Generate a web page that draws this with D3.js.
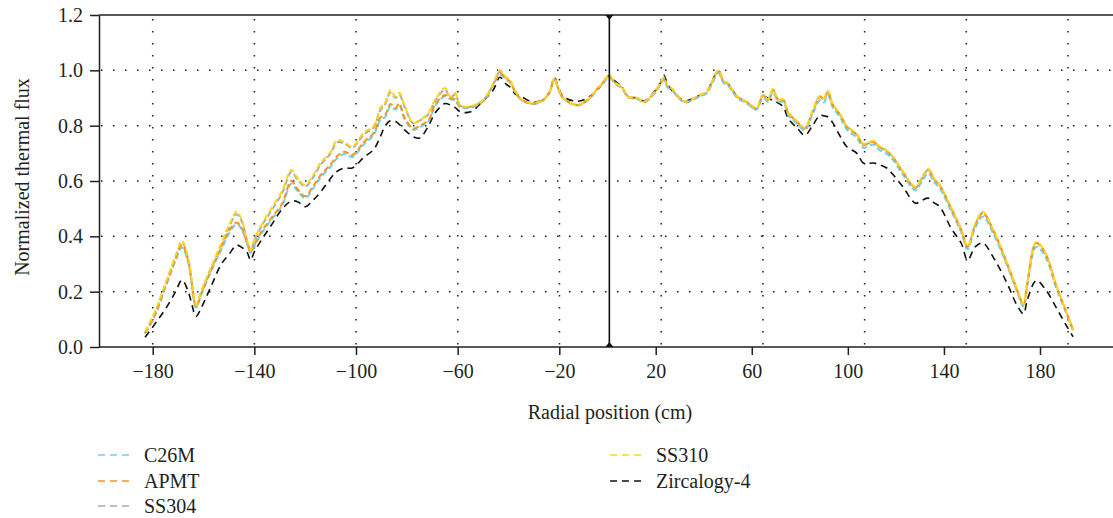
<!DOCTYPE html>
<html>
<head>
<meta charset="utf-8">
<script src="https://cdn.jsdelivr.net/npm/d3@7"></script>
<style>
  html, body { margin: 0; padding: 0; background: #ffffff; }
  svg { display: block; }
  text { font-family: "Liberation Serif", "DejaVu Serif", serif; fill: #231f20; }
</style>
</head>
<body>
<script>
// Radial positions (cm) at which the flux profiles are sampled
const positions = [
  -183, -179, -175, -171, -168.5, -166, -164.5, -163, -161, -157,
  -153, -150, -147, -145, -143, -141.5, -140, -137, -133, -129,
  -125.5, -123, -120, -117, -114, -110, -107.5, -104.5, -101.5, -97,
  -93, -90.5, -88.5, -86.5, -84.5, -83, -81, -77.5, -75, -71.5,
  -69, -65, -63, -61, -59, -55, -50, -46, -43.5, -41,
  -39.5, -37.5, -35, -30.5, -26.5, -24, -22, -20.5, -18.5, -13,
  -9, -5, -3, -0.5, 2, 4.5, 7, 10.5, 13.5, 17.5,
  20, 21, 22.5, 24, 28, 30, 34, 38, 40, 42.5,
  44.5, 46, 50, 53.5, 57.5, 60, 62, 64, 66, 68,
  70, 73.5, 76.5, 79.5, 82.5, 84, 85.5, 87.5, 90.5, 93,
  97, 99.5, 103.5, 105.5, 108.5, 111, 115, 120, 122.5, 125,
  127.5, 129.5, 134, 138, 140.5, 143.5, 146.5, 150.5, 156, 160,
  162.5, 164, 167.5, 171, 175.5, 179.5, 182
];

// Normalized thermal flux for each cladding material
const c26m = [
  0.048, 0.115, 0.215, 0.312, 0.36, 0.303, 0.215, 0.142, 0.186, 0.275,
  0.352, 0.41, 0.445, 0.425, 0.375, 0.34, 0.365, 0.413, 0.463, 0.513,
  0.59, 0.563, 0.538, 0.572, 0.612, 0.652, 0.682, 0.698, 0.687, 0.732,
  0.768, 0.82, 0.832, 0.87, 0.858, 0.873, 0.825, 0.785, 0.795, 0.815,
  0.87, 0.906, 0.896, 0.89, 0.867, 0.865, 0.888, 0.946, 0.985, 0.966,
  0.956, 0.922, 0.893, 0.878, 0.891, 0.917, 0.966, 0.932, 0.898, 0.873,
  0.89, 0.932, 0.951, 0.974, 0.95, 0.936, 0.902, 0.897, 0.884, 0.918,
  0.952, 0.966, 0.938, 0.93, 0.89, 0.884, 0.9, 0.918, 0.952, 0.99,
  0.954, 0.948, 0.9, 0.882, 0.858, 0.902, 0.886, 0.922, 0.887, 0.886,
  0.838, 0.806, 0.783, 0.84, 0.893, 0.884, 0.91, 0.866, 0.828, 0.786,
  0.756, 0.72, 0.732, 0.714, 0.7, 0.678, 0.624, 0.566, 0.598, 0.627,
  0.594, 0.575, 0.493, 0.414, 0.354, 0.43, 0.472, 0.412, 0.295, 0.2,
  0.146, 0.222, 0.362, 0.328, 0.21, 0.118, 0.058
];
const apmt = [
  0.05, 0.12, 0.22, 0.32, 0.368, 0.31, 0.22, 0.145, 0.19, 0.28,
  0.36, 0.42, 0.45, 0.43, 0.38, 0.344, 0.37, 0.42, 0.47, 0.52,
  0.6, 0.57, 0.545, 0.58, 0.62, 0.66, 0.69, 0.706, 0.694, 0.74,
  0.775, 0.828, 0.84, 0.878, 0.864, 0.88, 0.83, 0.79, 0.8, 0.82,
  0.875, 0.911, 0.9, 0.895, 0.87, 0.868, 0.89, 0.95, 0.99, 0.97,
  0.96, 0.925, 0.895, 0.88, 0.893, 0.92, 0.97, 0.935, 0.9, 0.875,
  0.893, 0.935, 0.955, 0.978, 0.954, 0.94, 0.905, 0.9, 0.887, 0.923,
  0.958, 0.972, 0.943, 0.935, 0.893, 0.887, 0.905, 0.923, 0.958, 0.998,
  0.96, 0.953, 0.905, 0.887, 0.864, 0.91, 0.893, 0.93, 0.893, 0.893,
  0.846, 0.814, 0.791, 0.85, 0.905, 0.895, 0.923, 0.875, 0.838, 0.796,
  0.766, 0.73, 0.742, 0.724, 0.71, 0.688, 0.634, 0.575, 0.61, 0.64,
  0.604, 0.585, 0.502, 0.423, 0.362, 0.441, 0.484, 0.423, 0.303, 0.206,
  0.152, 0.231, 0.376, 0.34, 0.218, 0.123, 0.061
];
const ss304 = [
  0.052, 0.125, 0.225, 0.325, 0.378, 0.318, 0.228, 0.15, 0.198, 0.285,
  0.37, 0.432, 0.48, 0.455, 0.388, 0.348, 0.385, 0.44, 0.498, 0.558,
  0.632, 0.605, 0.58, 0.612, 0.658, 0.7, 0.74, 0.735, 0.72, 0.768,
  0.795, 0.855, 0.878, 0.92, 0.9, 0.912, 0.87, 0.808, 0.818, 0.842,
  0.888, 0.93, 0.902, 0.912, 0.872, 0.868, 0.892, 0.95, 0.995, 0.972,
  0.962, 0.926, 0.893, 0.88, 0.892, 0.918, 0.968, 0.934, 0.898, 0.874,
  0.892, 0.934, 0.953, 0.98, 0.952, 0.938, 0.903, 0.898, 0.886, 0.921,
  0.956, 0.972, 0.943, 0.934, 0.892, 0.886, 0.903, 0.921, 0.956, 0.996,
  0.96, 0.952, 0.903, 0.886, 0.862, 0.91, 0.893, 0.93, 0.893, 0.892,
  0.845, 0.813, 0.79, 0.85, 0.905, 0.895, 0.922, 0.875, 0.837, 0.797,
  0.767, 0.732, 0.742, 0.725, 0.709, 0.687, 0.633, 0.575, 0.609, 0.641,
  0.604, 0.585, 0.502, 0.423, 0.362, 0.441, 0.485, 0.423, 0.302, 0.205,
  0.152, 0.229, 0.376, 0.34, 0.217, 0.122, 0.06
];
const ss310 = [
  0.055, 0.13, 0.23, 0.33, 0.383, 0.32, 0.23, 0.152, 0.2, 0.29,
  0.375, 0.44, 0.489, 0.46, 0.39, 0.35, 0.39, 0.445, 0.505, 0.565,
  0.64, 0.61, 0.585, 0.62, 0.665, 0.705, 0.748, 0.74, 0.724, 0.775,
  0.8, 0.864, 0.885, 0.929, 0.905, 0.919, 0.875, 0.81, 0.82, 0.846,
  0.893, 0.936, 0.905, 0.918, 0.873, 0.87, 0.893, 0.954, 1.0, 0.975,
  0.965, 0.929, 0.895, 0.882, 0.893, 0.92, 0.972, 0.936, 0.9, 0.875,
  0.893, 0.936, 0.955, 0.983, 0.954, 0.94, 0.905, 0.9, 0.887, 0.923,
  0.959, 0.975, 0.945, 0.936, 0.893, 0.887, 0.905, 0.923, 0.959, 1.0,
  0.962, 0.955, 0.905, 0.887, 0.864, 0.912, 0.895, 0.933, 0.895, 0.895,
  0.848, 0.816, 0.793, 0.852, 0.908, 0.898, 0.926, 0.878, 0.84, 0.8,
  0.77, 0.735, 0.745, 0.728, 0.712, 0.69, 0.636, 0.578, 0.612, 0.645,
  0.607, 0.588, 0.505, 0.426, 0.365, 0.445, 0.489, 0.426, 0.305, 0.208,
  0.154, 0.232, 0.38, 0.343, 0.22, 0.125, 0.062
];
const zircaloy4 = [
  0.035, 0.085, 0.137, 0.2, 0.242, 0.2, 0.15, 0.11, 0.14, 0.22,
  0.3, 0.335, 0.368, 0.36, 0.345, 0.314, 0.345, 0.39, 0.445, 0.5,
  0.527, 0.525, 0.507, 0.53, 0.56, 0.61, 0.635, 0.647, 0.647, 0.685,
  0.715, 0.76, 0.8, 0.818, 0.815, 0.805, 0.785, 0.76, 0.755, 0.8,
  0.845, 0.88, 0.875, 0.865, 0.85, 0.85, 0.89, 0.93, 0.975, 0.95,
  0.94, 0.915, 0.905, 0.885, 0.895, 0.92, 0.975, 0.94, 0.905, 0.888,
  0.9, 0.93, 0.955, 0.98, 0.96, 0.94, 0.905, 0.9, 0.89, 0.925,
  0.96, 0.983, 0.95, 0.93, 0.895, 0.89, 0.905, 0.925, 0.96, 1.0,
  0.962, 0.955, 0.905, 0.885, 0.86, 0.905, 0.9, 0.89, 0.882, 0.868,
  0.825, 0.791, 0.765, 0.8, 0.838, 0.835, 0.832, 0.81, 0.76, 0.724,
  0.7, 0.665, 0.665, 0.66, 0.648, 0.625, 0.58, 0.52, 0.53, 0.538,
  0.52, 0.508, 0.43, 0.375, 0.314, 0.362, 0.376, 0.326, 0.231, 0.15,
  0.12, 0.17, 0.24, 0.21, 0.14, 0.075, 0.037
];

const seriesNames = ["C26M", "APMT", "SS304", "SS310", "Zircalogy-4"];
const seriesValues = [c26m, apmt, ss304, ss310, zircaloy4];
const seriesColors = ["#6dcff6", "#f7941d", "#a7a9ac", "#ffd51a", "#111111"];

const xTicks = [-180, -140, -100, -60, -20, 20, 60, 100, 140, 180];
const yTicks = [0, 0.2, 0.4, 0.6, 0.8, 1.0, 1.2];

const W = 1113, H = 518;
const plotL = 99, plotR = 1113, plotT = 15, plotB = 347;
const fontSize = 20;

const svg = d3.select("body").append("svg")
  .attr("width", W).attr("height", H);

// data scale and the scale used to place the bottom tick labels
const x = d3.scaleLinear().domain([-180, 180]).range([152.7, 1068]);
const xLabel = d3.scaleLinear().domain([-180, -20, 20, 180]).range([152.7, 559.3, 655.7, 1040]);
const y = d3.scaleLinear().domain([0, 1.2]).range([plotB, plotT]);

// dotted grid
const grid = svg.append("g").attr("stroke", "#1a1a1a").attr("stroke-width", 1.5)
  .attr("stroke-dasharray", "1.5,10.5").attr("fill", "none");
grid.selectAll("line.h").data(yTicks.filter(d => d > 0 && d < 1.2)).join("line")
  .attr("class", "h")
  .attr("x1", plotL + 2).attr("x2", plotR)
  .attr("y1", d => y(d)).attr("y2", d => y(d));
grid.selectAll("line.v").data(xTicks).join("line")
  .attr("class", "v")
  .attr("x1", d => x(d)).attr("x2", d => x(d))
  .attr("y1", plotT + 4).attr("y2", plotB);

// flux profiles
const line = d3.line()
  .x((d, i) => x(positions[i]))
  .y(d => y(d))
  .curve(d3.curveCatmullRom.alpha(0.5));

const drawOrder = [4, 0, 2, 1, 3];
svg.append("g").selectAll("path").data(drawOrder).join("path")
  .attr("d", k => line(seriesValues[k]))
  .attr("fill", "none")
  .attr("stroke", k => seriesColors[k])
  .attr("stroke-width", k => k === 4 ? 1.6 : 2)
  .attr("stroke-dasharray", k => k === 4 ? "7,5" : "6,3");

// frame lines
svg.append("line").attr("x1", plotL).attr("x2", plotR).attr("y1", plotT).attr("y2", plotT)
  .attr("stroke", "#231f20").attr("stroke-width", 1.5);
svg.append("line").attr("x1", plotL).attr("x2", plotR).attr("y1", plotB).attr("y2", plotB)
  .attr("stroke", "#231f20").attr("stroke-width", 1.5);

// y axis
const yAxis = svg.append("g").attr("transform", `translate(${plotL},0)`)
  .call(d3.axisLeft(y).tickValues(yTicks).tickFormat(d3.format(".1f"))
    .tickSize(9).tickSizeOuter(0).tickPadding(7));
yAxis.select(".domain").attr("stroke", "#231f20").attr("stroke-width", 1.5);
yAxis.selectAll(".tick line").attr("stroke", "#231f20").attr("stroke-width", 1.5);
yAxis.selectAll("text").attr("font-size", fontSize).attr("font-family", "Liberation Serif").attr("fill", "#231f20");

// x axis
const xAxis = svg.append("g").attr("transform", `translate(0,${plotB})`)
  .call(d3.axisBottom(xLabel).tickValues(xTicks).tickSize(8).tickSizeOuter(0).tickPadding(9));
xAxis.select(".domain").remove();
xAxis.selectAll(".tick line").attr("stroke", "#231f20").attr("stroke-width", 1.5);
xAxis.selectAll("text").attr("font-size", fontSize).attr("font-family", "Liberation Serif").attr("fill", "#231f20");

// centre line with end markers
const cx = x(0) - 1;
svg.append("line").attr("x1", cx).attr("x2", cx).attr("y1", plotT).attr("y2", plotB)
  .attr("stroke", "#111").attr("stroke-width", 1.6);
svg.append("path").attr("d", `M${cx - 4},${plotT} L${cx + 4},${plotT} L${cx},${plotT + 5} Z`).attr("fill", "#111");
svg.append("path").attr("d", `M${cx - 4},${plotB} L${cx + 4},${plotB} L${cx},${plotB - 5} Z`).attr("fill", "#111");

// axis titles
svg.append("text").attr("x", 610).attr("y", 419).attr("text-anchor", "middle")
  .attr("font-size", fontSize).text("Radial position (cm)");
svg.append("text").attr("transform", "translate(29,177) rotate(-90)").attr("text-anchor", "middle")
  .attr("font-size", fontSize).text("Normalized thermal flux");

// legend
const legendPos = [[98, 455], [98, 481], [98, 506], [610, 455], [610, 481]];
const legend = svg.append("g").selectAll("g").data(seriesNames).join("g")
  .attr("transform", (d, i) => `translate(${legendPos[i][0]},${legendPos[i][1]})`);
legend.append("line").attr("x1", 0).attr("x2", 33).attr("y1", 0).attr("y2", 0)
  .attr("stroke", (d, i) => seriesColors[i]).attr("stroke-width", 1.6)
  .attr("stroke-dasharray", "7,5");
legend.append("text").attr("x", 46).attr("y", 0).attr("dy", "0.35em")
  .attr("font-size", fontSize).text(d => d);
</script>
</body>
</html>
